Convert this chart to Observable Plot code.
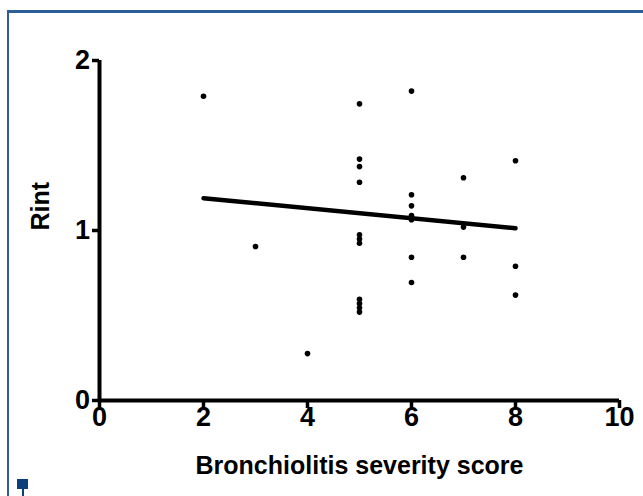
<!DOCTYPE html>
<html>
<head>
<meta charset="utf-8">
<script src="https://cdn.jsdelivr.net/npm/d3@7"></script>
<script src="https://cdn.jsdelivr.net/npm/@observablehq/plot@0.6"></script>
<style>
  html, body { margin: 0; padding: 0; background: #fff; }
  #wrap { position: relative; width: 643px; height: 496px; overflow: hidden; font-family: "Liberation Sans", Arial, sans-serif; }
  #wrap svg { position: absolute; left: 0; top: 0; }
  .frameTop { position: absolute; left: 7px; top: 10px; width: 700px; height: 3px; background: #2c5f99; }
  .frameLeft { position: absolute; left: 7px; top: 10px; width: 2px; height: 600px; background: #2c5f99; }
  .mark { position: absolute; left: 17px; top: 479px; width: 11px; height: 10px; background: #0b3f7c; }
  .stem { position: absolute; left: 22px; top: 489px; width: 2px; height: 10px; background: #0b3f7c; }
</style>
</head>
<body>
<div id="wrap">
  <div class="frameTop"></div>
  <div class="frameLeft"></div>
  <div class="mark"></div>
  <div class="stem"></div>
</div>
<script>
// Data
const scores = [2, 3, 4, 5, 5, 5, 5, 5, 5, 5, 5, 5, 5, 5, 6, 6, 6, 6, 6, 6, 6, 7, 7, 7, 8, 8, 8];
const rint   = [1.79, 0.906, 0.276, 1.745, 1.42, 1.376, 1.284, 0.975, 0.95, 0.925, 0.595, 0.57, 0.545, 0.52,
                1.82, 1.21, 1.145, 1.088, 1.063, 0.843, 0.694, 1.31, 1.02, 0.843, 1.41, 0.79, 0.62];
const fitScore = [2, 8];
const fitRint  = [1.19, 1.013];
const xTicks = [0, 2, 4, 6, 8, 10];
const yTicks = [0, 1, 2];
const xLabel = "Bronchiolitis severity score";
const yLabel = "Rint";

const points = scores.map((s, i) => ({score: s, rint: rint[i]}));
const fit = fitScore.map((s, i) => ({score: s, rint: fitRint[i]}));

const font = "'Liberation Sans', Arial, sans-serif";

const chart = Plot.plot({
  width: 643,
  height: 496,
  marginLeft: 99,
  marginRight: 24,
  marginTop: 60,
  marginBottom: 96,
  style: {fontFamily: font, fontWeight: "bold", fontSize: "25px", color: "#000", background: "transparent"},
  x: {domain: [0, 10], ticks: xTicks},
  y: {domain: [0, 2], ticks: yTicks},
  marks: [
    Plot.ruleX([0], {y1: 0, y2: 2, stroke: "#000", strokeWidth: 4}),
    Plot.ruleY([0], {x1: 0, x2: 10, stroke: "#000", strokeWidth: 4}),
    Plot.axisX({ticks: xTicks, tickSize: 8, strokeWidth: 3.5, tickFormat: () => "", label: null}),
    Plot.axisY({ticks: yTicks, tickSize: 7, strokeWidth: 3.5, tickFormat: () => "", label: null}),
    Plot.text(xTicks, {x: d => d, frameAnchor: "bottom", dy: 25, text: d => String(d),
      fontSize: 27, fontWeight: "bold", fill: "#000"}),
    Plot.text(yTicks, {y: d => d, frameAnchor: "left", dx: -17, textAnchor: "middle", text: d => String(d),
      fontSize: 27, fontWeight: "bold", fill: "#000"}),
    Plot.text([xLabel], {frameAnchor: "bottom", dy: 73, fontSize: 25, fontWeight: "bold", fill: "#000"}),
    Plot.text([yLabel], {frameAnchor: "left", dx: -59, rotate: -90, fontSize: 25, fontWeight: "bold", fill: "#000"}),
    Plot.line(fit, {x: "score", y: "rint", stroke: "#000", strokeWidth: 4.5}),
    Plot.dot(points, {x: "score", y: "rint", r: 2.8, fill: "#000", stroke: "none"})
  ]
});
document.getElementById("wrap").appendChild(chart);
</script>
</body>
</html>
